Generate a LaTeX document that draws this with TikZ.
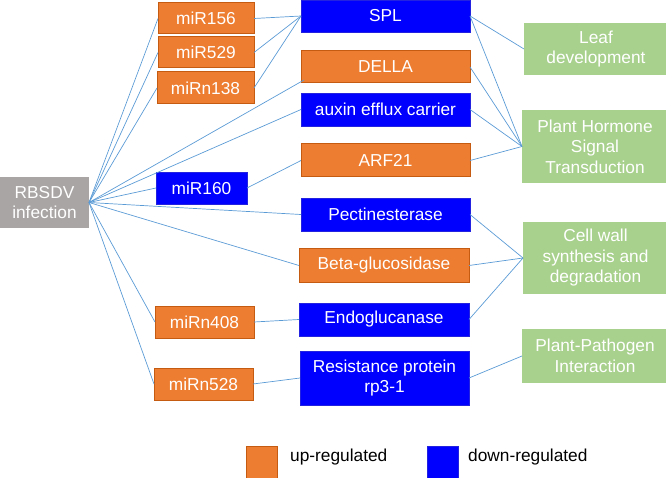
\documentclass[tikz,border=0pt]{standalone}
\usepackage{fontspec}
\setmainfont{Liberation Sans}
\definecolor{orfill}{HTML}{ED7D31}
\definecolor{orborder}{HTML}{C55A11}
\definecolor{bluefill}{HTML}{0000FF}
\definecolor{blueborder}{HTML}{2222E0}
\definecolor{grayfill}{HTML}{A9A5A4}
\definecolor{greenfill}{HTML}{A9D18E}
\definecolor{linkcol}{HTML}{5B9BD5}
\tikzset{
  base/.style={inner sep=0pt, outer sep=0pt, align=center, text=white,
    font=\fontsize{17.3}{20.5}\selectfont},
  upbox/.style={base, draw=orborder, fill=orfill, line width=1pt},
  downbox/.style={base, draw=blueborder, fill=bluefill, line width=0.6pt},
  srcbox/.style={base, fill=grayfill},
  pathbox/.style={base, fill=greenfill},
  link/.style={draw=linkcol, line width=0.7pt},
  legtext/.style={inner sep=0pt, anchor=west, text=black,
    font=\fontsize{17.3}{20.5}\selectfont}
}
\begin{document}
\begin{tikzpicture}[x=1pt,y=-1pt]
\useasboundingbox (0,0) rectangle (666,478);
% source
\node[srcbox, minimum width=89, minimum height=51] (RB) at (44.5,202.5) {RBSDV\\infection};
% miRNAs
\node[upbox, minimum width=96, minimum height=31] (m156) at (206,18.5) {miR156};
\node[upbox, minimum width=96, minimum height=31] (m529) at (206,52.5) {miR529};
\node[upbox, minimum width=97, minimum height=32] (m138) at (205.5,88) {miRn138};
\node[downbox, minimum width=91, minimum height=32] (m160) at (201.5,188) {miR160};
\node[upbox, minimum width=99, minimum height=32] (m408) at (204.5,322) {miRn408};
\node[upbox, minimum width=99, minimum height=32] (m528) at (203.5,384) {miRn528};
% targets
\node[downbox, minimum width=169, minimum height=32] (SPL) at (385.5,16) {SPL};
\node[upbox, minimum width=169, minimum height=32] (DELLA) at (385.5,67) {DELLA};
\node[downbox, minimum width=169, minimum height=33] (AUX) at (385.5,109.5) {auxin efflux carrier};
\node[upbox, minimum width=169, minimum height=33] (ARF) at (385.5,160.5) {ARF21};
\node[downbox, minimum width=169, minimum height=33] (PEC) at (385.5,214.5) {Pectinesterase};
\node[upbox, minimum width=170, minimum height=33] (BETA) at (384,265.5) {Beta-glucosidase};
\node[downbox, minimum width=170, minimum height=33] (ENDO) at (384,319.5) {Endoglucanase};
\node[downbox, minimum width=169, minimum height=54] (RES) at (384.5,378) {Resistance protein\\rp3-1};
% pathways
\node[pathbox, minimum width=144, minimum height=52] (LEAF) at (596,49) {Leaf\\development};
\node[pathbox, minimum width=146, minimum height=73] (HORM) at (595,146.5) {Plant Hormone\\Signal\\Transduction};
\node[pathbox, minimum width=145, minimum height=72] (CELL) at (595.5,258) {Cell wall\\synthesis and\\degradation};
\node[pathbox, minimum width=146, minimum height=54] (PATH) at (595,356) {Plant-Pathogen\\Interaction};
% links from source
\draw[link] (RB.east) -- (m156.west);
\draw[link] (RB.east) -- (m529.west);
\draw[link] (RB.east) -- (m138.west);
\draw[link] (RB.east) -- ([shift={(3,-3)}]DELLA.south west);
\draw[link] (RB.east) -- (AUX.west);
\draw[link] (RB.east) -- (m160.west);
\draw[link] (RB.east) -- (PEC.west);
\draw[link] (RB.east) -- (BETA.west);
\draw[link] (RB.east) -- (m408.west);
\draw[link] (RB.east) -- (m528.west);
% miRNA to targets
\draw[link] (m156.east) -- (SPL.west);
\draw[link] (m529.east) -- (SPL.west);
\draw[link] (m138.east) -- (SPL.west);
\draw[link] (m160.east) -- (ARF.west);
\draw[link] (m408.east) -- (ENDO.west);
\draw[link] (m528.east) -- (RES.west);
% targets to pathways
\draw[link] (SPL.east) -- (LEAF.west);
\draw[link] (SPL.east) -- (HORM.west);
\draw[link] (DELLA.east) -- (HORM.west);
\draw[link] (AUX.east) -- (HORM.west);
\draw[link] (ARF.east) -- (HORM.west);
\draw[link] (PEC.east) -- (CELL.west);
\draw[link] (BETA.east) -- (CELL.west);
\draw[link] (ENDO.east) -- (CELL.west);
\draw[link] (RES.east) -- (PATH.west);
% legend
\node[upbox, minimum width=31, minimum height=32] (LUP) at (262,462) {};
\node[legtext] (LUPT) at (290,457) {up-regulated};
\node[downbox, minimum width=31, minimum height=32] (LDN) at (442.5,462) {};
\node[legtext] (LDNT) at (468,457) {down-regulated};
\end{tikzpicture}
\end{document}
